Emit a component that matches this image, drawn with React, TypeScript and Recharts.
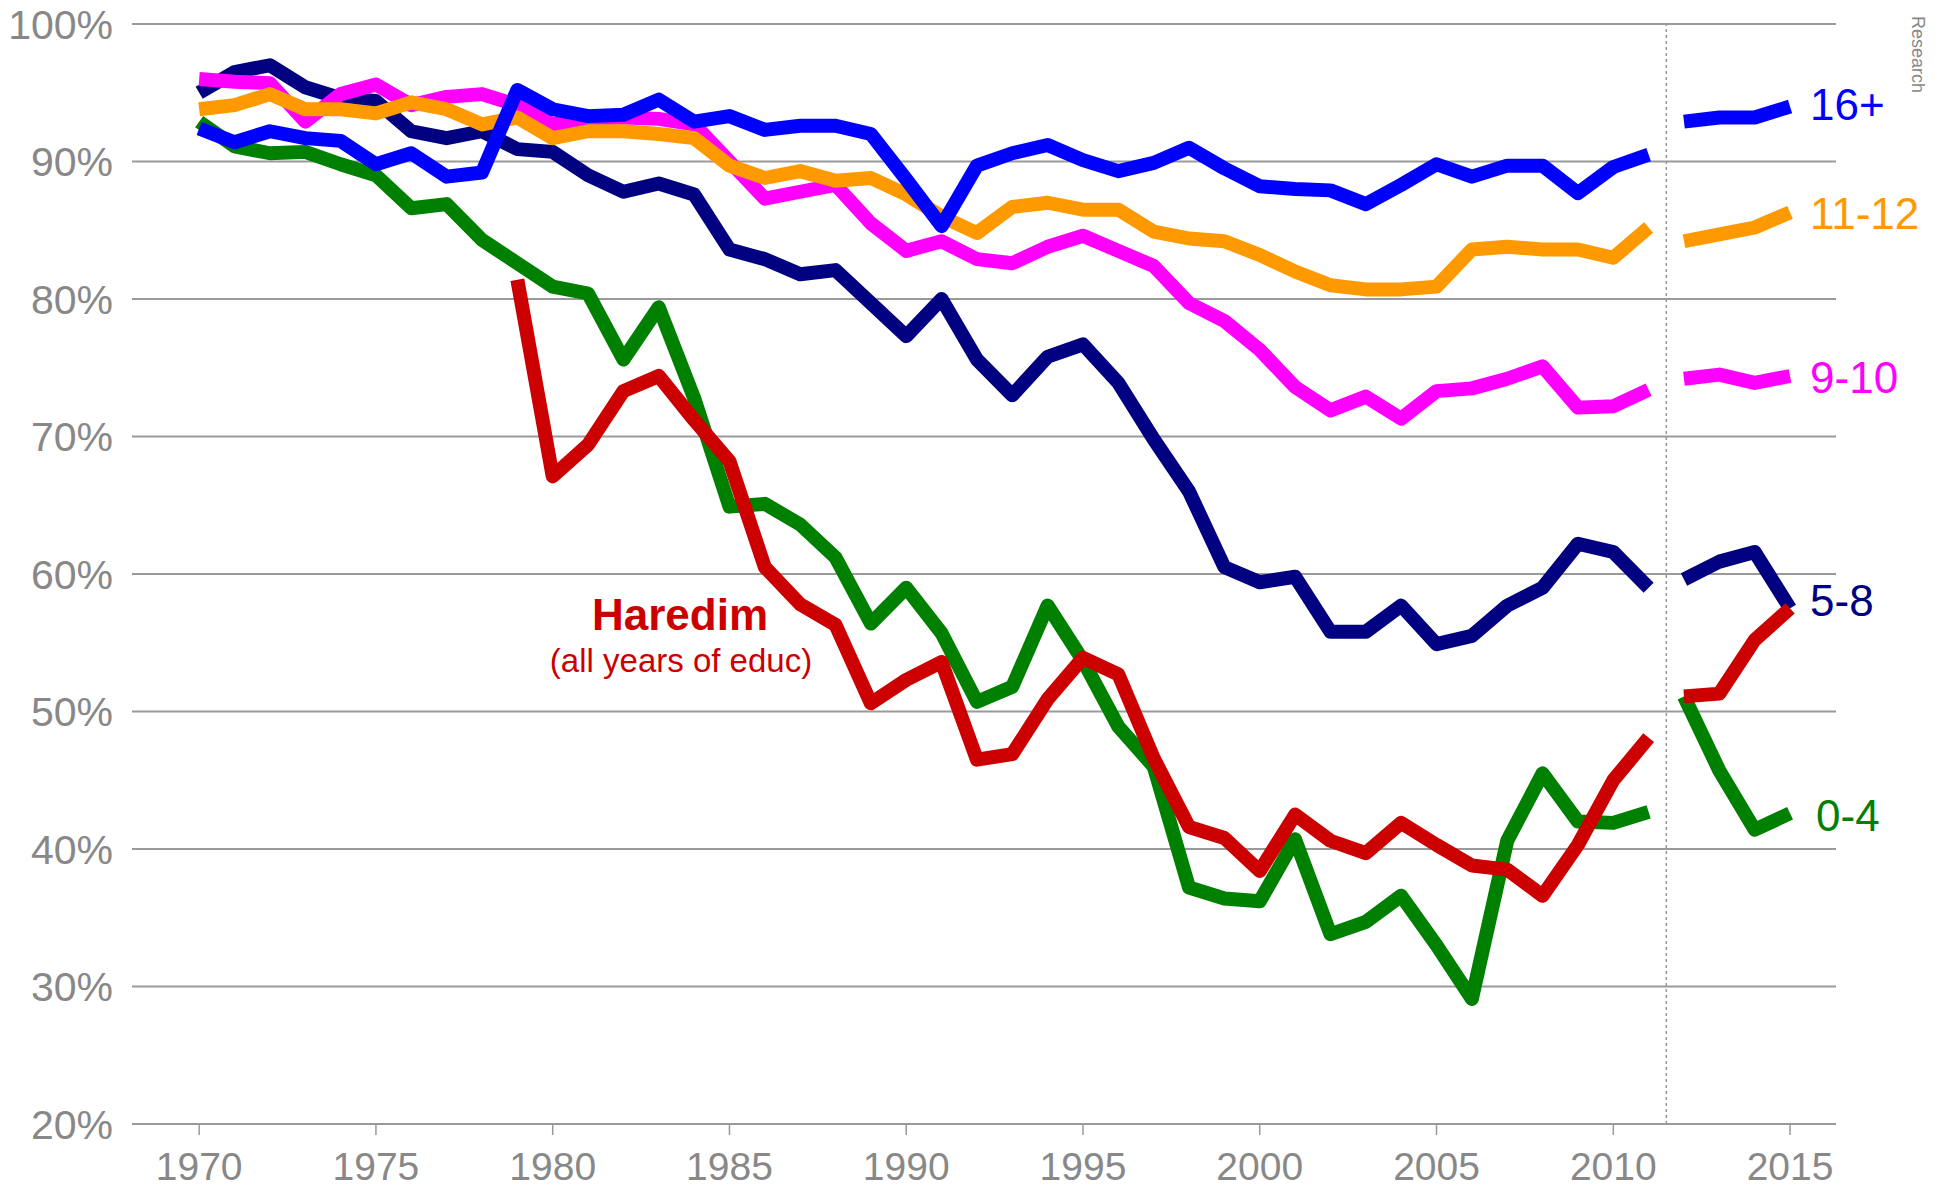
import React from 'react';
import {
    LineChart,
    Line,
    XAxis,
    YAxis,
    CartesianGrid,
    ReferenceLine,
} from 'recharts';

const years = [
    1970, 1971, 1972, 1973, 1974, 1975, 1976, 1977, 1978, 1979,
    1980, 1981, 1982, 1983, 1984, 1985, 1986, 1987, 1988, 1989,
    1990, 1991, 1992, 1993, 1994, 1995, 1996, 1997, 1998, 1999,
    2000, 2001, 2002, 2003, 2004, 2005, 2006, 2007, 2008, 2009,
    2010, 2011, 2012, 2013, 2014, 2015,
];

// break in the series between the two survey periods
const gapYear = 2011.5;

const educ16 = [
    92.4, 91.4, 92.2, 91.7, 91.5, 89.8, 90.6, 88.9, 89.2, 95.2,
    93.8, 93.3, 93.4, 94.5, 92.9, 93.3, 92.3, 92.6, 92.6, 92.0,
    88.7, 85.3, 89.7, 90.6, 91.2, 90.1, 89.3, 89.9, 91.0, 89.5,
    88.2, 88.0, 87.9, 86.9, 88.3, 89.8, 88.9, 89.7, 89.7, 87.7,
    89.6, 90.5, 92.9, 93.2, 93.2, 94.0,
];

const educ11 = [
    93.8, 94.1, 94.9, 93.8, 93.8, 93.5, 94.3, 93.8, 92.7, 93.2,
    91.7, 92.2, 92.2, 92.0, 91.7, 89.7, 88.8, 89.3, 88.6, 88.8,
    87.6, 86.0, 84.8, 86.7, 87.0, 86.5, 86.5, 84.9, 84.4, 84.2,
    83.2, 82.0, 81.0, 80.7, 80.7, 80.9, 83.6, 83.8, 83.6, 83.6,
    83.0, 85.2, 84.2, 84.7, 85.2, 86.3,
];

const educ9 = [
    96.0, 95.8, 95.7, 92.9, 94.9, 95.6, 94.1, 94.7, 94.9, 94.1,
    92.7, 93.1, 93.2, 93.1, 92.7, 90.0, 87.3, 87.8, 88.3, 85.5,
    83.5, 84.2, 82.9, 82.6, 83.8, 84.6, 83.5, 82.4, 79.7, 78.4,
    76.3, 73.6, 71.9, 72.9, 71.3, 73.3, 73.5, 74.2, 75.1, 72.1,
    72.2, 73.4, 74.2, 74.5, 73.9, 74.4,
];

const educ5 = [
    95.0, 96.5, 97.0, 95.4, 94.6, 94.4, 92.2, 91.7, 92.2, 90.9,
    90.7, 89.0, 87.8, 88.4, 87.6, 83.6, 82.9, 81.8, 82.1, 79.7,
    77.3, 80.0, 75.6, 73.0, 75.8, 76.7, 73.9, 69.8, 66.0, 60.5,
    59.4, 59.8, 55.8, 55.8, 57.7, 54.9, 55.5, 57.7, 59.0, 62.2,
    61.6, 59.0, 59.6, 60.9, 61.6, 57.5,
];

const educ0 = [
    92.9, 91.1, 90.6, 90.7, 89.8, 89.0, 86.6, 86.9, 84.3, 82.6,
    80.9, 80.4, 75.6, 79.4, 72.8, 64.9, 65.1, 63.6, 61.2, 56.4,
    59.0, 55.7, 50.7, 51.8, 57.7, 53.7, 48.9, 46.0, 37.2, 36.4,
    36.2, 40.7, 33.8, 34.7, 36.6, 33.0, 29.1, 40.6, 45.5, 42.0,
    41.9, 42.7, 51.1, 45.7, 41.4, 42.6,
];

const haredim = [
    null, null, null, null, null, null, null, null, null, 81.4,
    67.1, 69.4, 73.3, 74.4, 71.2, 68.2, 60.5, 57.8, 56.3, 50.6,
    52.3, 53.6, 46.5, 46.9, 50.9, 53.9, 52.7, 46.6, 41.6, 40.8,
    38.4, 42.5, 40.6, 39.7, 41.9, 40.3, 38.8, 38.5, 36.6, 40.3,
    45.0, 48.1, 51.1, 51.3, 55.2, 57.5,
];

const xTicks = [1970, 1975, 1980, 1985, 1990, 1995, 2000, 2005, 2010, 2015];
const yTicks = [20, 30, 40, 50, 60, 70, 80, 90, 100];

const FONT = '"Liberation Sans", Arial, sans-serif';

const rows: any[] = [];
years.forEach((year, i) => {
    rows.push({
        year,
        educ16: educ16[i],
        educ11: educ11[i],
        educ9: educ9[i],
        educ5: educ5[i],
        educ0: educ0[i],
        haredim: haredim[i],
    });
    if (year === 2011) rows.push({ year: gapYear });
});

const lastIndex = rows.length - 1;

const endLabel = (text: string, color: string, dx: number, dy: number) =>
    (props: any) => {
        if (props.index !== lastIndex) return null;
        return (
            <text
                x={props.x + dx}
                y={props.y + dy}
                fill={color}
                fontSize={44}
                fontFamily={FONT}
                dominantBaseline="central"
            >
                {text}
            </text>
        );
    };

const series = [
    { key: 'educ0', color: '#008000', label: '0-4', dx: 26, dy: 2 },
    { key: 'educ5', color: '#000080', label: '5-8', dx: 20, dy: -8 },
    { key: 'educ9', color: '#ff00ff', label: '9-10', dx: 20, dy: 1 },
    { key: 'educ11', color: '#ff9900', label: '11-12', dx: 20, dy: 1 },
    { key: 'haredim', color: '#cc0000', label: '', dx: 0, dy: 0 },
    { key: 'educ16', color: '#0000ff', label: '16+', dx: 20, dy: -2 },
];

export default function App() {
    return (
        <div
            style={{
                position: 'absolute',
                left: 0,
                top: 0,
                width: 1948,
                height: 1188,
                background: '#fff',
                fontFamily: FONT,
            }}
        >
            <LineChart
                width={1948}
                height={1188}
                data={rows}
                margin={{ top: 24, right: 112, left: 12, bottom: 4 }}
            >
                <CartesianGrid vertical={false} stroke="#9a9a9a" strokeWidth={2} />
                <XAxis
                    dataKey="year"
                    type="number"
                    domain={[1968.1, 2016.3]}
                    ticks={xTicks}
                    allowDataOverflow
                    height={60}
                    stroke="#999"
                    axisLine={{ stroke: '#999', strokeWidth: 2 }}
                    tickLine={{ stroke: '#999', strokeWidth: 1.5 }}
                    tickSize={11}
                    tickMargin={17}
                    tick={{ fontSize: 39, fill: '#888', fontFamily: FONT }}
                />
                <YAxis
                    domain={[20, 100]}
                    ticks={yTicks}
                    width={120}
                    axisLine={false}
                    tickLine={false}
                    tickMargin={13}
                    tickFormatter={(v: number) => `${v}%`}
                    tick={{ fontSize: 41, fill: '#888', fontFamily: FONT }}
                />
                <ReferenceLine
                    x={gapYear}
                    stroke="#999"
                    strokeWidth={1.5}
                    strokeDasharray="3 3"
                />
                {series.map((s) => (
                    <Line
                        key={s.key}
                        dataKey={s.key}
                        type="linear"
                        stroke={s.color}
                        strokeWidth={14}
                        strokeLinejoin="round"
                        dot={false}
                        activeDot={false}
                        connectNulls={false}
                        isAnimationActive={false}
                        label={s.label ? endLabel(s.label, s.color, s.dx, s.dy) : undefined}
                    />
                ))}
            </LineChart>
            <svg
                width={1948}
                height={1188}
                style={{ position: 'absolute', left: 0, top: 0, pointerEvents: 'none' }}
            >
                <text
                    x={680}
                    y={630}
                    textAnchor="middle"
                    fill="#cc0000"
                    fontSize={44}
                    fontWeight="bold"
                    fontFamily={FONT}
                >
                    Haredim
                </text>
                <text
                    x={681}
                    y={672}
                    textAnchor="middle"
                    fill="#cc0000"
                    fontSize={33}
                    fontFamily={FONT}
                >
                    (all years of educ)
                </text>
                <text
                    x={1912}
                    y={93}
                    textAnchor="end"
                    transform="rotate(90 1912 93)"
                    fill="#888"
                    fontSize={18}
                    fontFamily={FONT}
                >
                    Research
                </text>
            </svg>
        </div>
    );
}
